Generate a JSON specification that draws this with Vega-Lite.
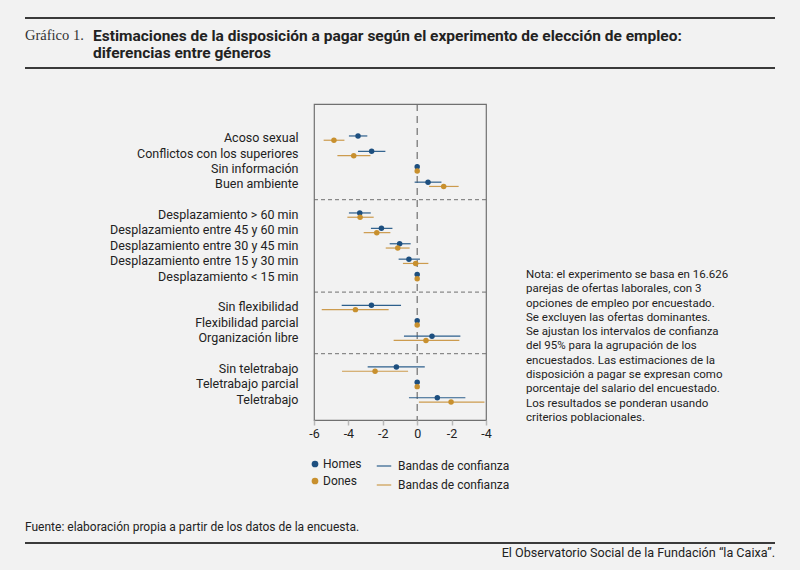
{
  "$schema": "https://vega.github.io/schema/vega-lite/v6.json",
  "background": "#f2f2f2",
  "padding": {"left": 24, "right": 26, "top": 17, "bottom": 10},
  "config": {"view": {"stroke": null}, "font": "Roboto"},
  "datasets": {
    "estimaciones": [
      {"atributo": "Acoso sexual", "genero": "Homes", "wtp": -3.44, "lo": -3.97, "hi": -2.90},
      {"atributo": "Acoso sexual", "genero": "Dones", "wtp": -4.84, "lo": -5.44, "hi": -4.23},
      {"atributo": "Conflictos con los superiores", "genero": "Homes", "wtp": -2.65, "lo": -3.44, "hi": -1.85},
      {"atributo": "Conflictos con los superiores", "genero": "Dones", "wtp": -3.69, "lo": -4.64, "hi": -2.72},
      {"atributo": "Sin información", "genero": "Homes", "wtp": 0},
      {"atributo": "Sin información", "genero": "Dones", "wtp": 0},
      {"atributo": "Buen ambiente", "genero": "Homes", "wtp": 0.63, "lo": -0.15, "hi": 1.41},
      {"atributo": "Buen ambiente", "genero": "Dones", "wtp": 1.54, "lo": 0.69, "hi": 2.41},
      {"atributo": "Desplazamiento > 60 min", "genero": "Homes", "wtp": -3.34, "lo": -3.97, "hi": -2.70},
      {"atributo": "Desplazamiento > 60 min", "genero": "Dones", "wtp": -3.32, "lo": -4.06, "hi": -2.53},
      {"atributo": "Desplazamiento entre 45 y 60 min", "genero": "Homes", "wtp": -2.08, "lo": -2.69, "hi": -1.44},
      {"atributo": "Desplazamiento entre 45 y 60 min", "genero": "Dones", "wtp": -2.35, "lo": -3.11, "hi": -1.56},
      {"atributo": "Desplazamiento entre 30 y 45 min", "genero": "Homes", "wtp": -1.02, "lo": -1.60, "hi": -0.38},
      {"atributo": "Desplazamiento entre 30 y 45 min", "genero": "Dones", "wtp": -1.13, "lo": -1.83, "hi": -0.44},
      {"atributo": "Desplazamiento entre 15 y 30 min", "genero": "Homes", "wtp": -0.48, "lo": -1.08, "hi": 0.16},
      {"atributo": "Desplazamiento entre 15 y 30 min", "genero": "Dones", "wtp": -0.09, "lo": -0.83, "hi": 0.65},
      {"atributo": "Desplazamiento < 15 min", "genero": "Homes", "wtp": 0},
      {"atributo": "Desplazamiento < 15 min", "genero": "Dones", "wtp": 0},
      {"atributo": "Sin flexibilidad", "genero": "Homes", "wtp": -2.66, "lo": -4.39, "hi": -0.94},
      {"atributo": "Sin flexibilidad", "genero": "Dones", "wtp": -3.59, "lo": -5.55, "hi": -1.66},
      {"atributo": "Flexibilidad parcial", "genero": "Homes", "wtp": 0},
      {"atributo": "Flexibilidad parcial", "genero": "Dones", "wtp": 0},
      {"atributo": "Organización libre", "genero": "Homes", "wtp": 0.86, "lo": -0.77, "hi": 2.51},
      {"atributo": "Organización libre", "genero": "Dones", "wtp": 0.51, "lo": -1.37, "hi": 2.45},
      {"atributo": "Sin teletrabajo", "genero": "Homes", "wtp": -1.21, "lo": -2.88, "hi": 0.44},
      {"atributo": "Sin teletrabajo", "genero": "Dones", "wtp": -2.45, "lo": -4.37, "hi": -0.53},
      {"atributo": "Teletrabajo parcial", "genero": "Homes", "wtp": 0},
      {"atributo": "Teletrabajo parcial", "genero": "Dones", "wtp": 0},
      {"atributo": "Teletrabajo", "genero": "Homes", "wtp": 1.17, "lo": -0.48, "hi": 2.80},
      {"atributo": "Teletrabajo", "genero": "Dones", "wtp": 1.97, "lo": 0.10, "hi": 3.91}
    ],
    "separadores": [
      {"atributo": "sep1"},
      {"atributo": "sep2"},
      {"atributo": "sep3"}
    ]
  },
  "columns": 1,
  "spacing": 29,
  "resolve": {"scale": {"fill": "independent", "stroke": "independent"}},
  "concat": [
    {
      "width": 750,
      "height": 50,
      "data": {"values": [{}]},
      "layer": [
        {
          "mark": {"type": "rule", "color": "#3a3a3a", "strokeWidth": 2},
          "encoding": {"y": {"datum": 1, "type": "quantitative", "scale": {"domain": [0, 1]}, "axis": null}}
        },
        {
          "mark": {"type": "rule", "color": "#3a3a3a", "strokeWidth": 2},
          "encoding": {"y": {"datum": 0, "type": "quantitative"}}
        },
        {
          "mark": {"type": "text", "text": "Gráfico 1.", "font": "Liberation Serif", "fontSize": 14.5, "align": "left", "baseline": "middle", "color": "#333333"},
          "encoding": {
            "x": {"datum": 0, "type": "quantitative", "scale": {"domain": [0, 1]}, "axis": null},
            "y": {"datum": 0.64, "type": "quantitative"}
          }
        },
        {
          "mark": {"type": "text", "text": ["Estimaciones de la disposición a pagar según el experimento de elección de empleo:", "diferencias entre géneros"], "font": "Roboto", "fontWeight": "bold", "fontSize": 15.5, "lineHeight": 16.5, "align": "left", "baseline": "middle", "dx": 68, "color": "#222222"},
          "encoding": {
            "x": {"datum": 0, "type": "quantitative"},
            "y": {"datum": 0.64, "type": "quantitative"}
          }
        }
      ]
    },
    {
      "columns": 1,
      "spacing": 29,
      "resolve": {"scale": {"fill": "independent", "stroke": "independent"}},
      "concat": [
        {
          "spacing": 15,
          "resolve": {"scale": {"fill": "independent", "stroke": "independent"}},
          "hconcat": [
            {
              "width": 1,
              "height": 1,
              "data": {"values": [{}]},
              "mark": {"type": "text", "text": ""},
              "encoding": {}
            },
            {
              "width": 172,
              "height": 316,
              "view": {"stroke": "#707070", "strokeWidth": 1.2},
              "layer": [
                {
                  "data": {"name": "separadores"},
                  "mark": {"type": "rule", "color": "#707070", "strokeWidth": 1, "strokeDash": [4, 3]},
                  "encoding": {
                    "y": {"field": "atributo", "type": "nominal", "title": null,
                      "scale": {"domain": ["sep0", "Acoso sexual", "Conflictos con los superiores", "Sin información", "Buen ambiente", "sep1", "Desplazamiento > 60 min", "Desplazamiento entre 45 y 60 min", "Desplazamiento entre 30 y 45 min", "Desplazamiento entre 15 y 30 min", "Desplazamiento < 15 min", "sep2", "Sin flexibilidad", "Flexibilidad parcial", "Organización libre", "sep3", "Sin teletrabajo", "Teletrabajo parcial", "Teletrabajo"], "paddingInner": 0, "paddingOuter": 0.76, "align": 0.47},
                      "axis": {"title": null, "ticks": false, "domain": false, "grid": false, "labelPadding": 16, "labelFont": "Roboto", "labelFontSize": 12.5, "labelColor": "#222222", "labelLimit": 300, "minExtent": 272, "labelExpr": "indexof(datum.label, 'sep') === 0 ? '' : datum.label"}
                    }
                  }
                },
                {
                  "data": {"values": [{}]},
                  "mark": {"type": "rule", "color": "#707070", "strokeWidth": 1.2, "strokeDash": [7, 5]},
                  "encoding": {"x": {"datum": 0, "type": "quantitative", "title": null,
                    "scale": {"domain": [-6, 4], "nice": false, "zero": false},
                    "axis": {"title": null, "values": [-6, -4, -2, 0, 2, 4], "tickCount": 10, "labelExpr": "datum.value == 0 ? '0' : '-' + abs(datum.value)", "labelFlush": false, "labelOverlap": false, "domain": false, "grid": false, "tickColor": "#b8b8b8", "tickSize": 5, "tickWidth": 1.5, "labelPadding": 2, "labelFont": "Roboto", "labelFontSize": 12.5, "labelColor": "#222222"}}}
                },
                {
                  "data": {"name": "estimaciones"},
                  "mark": {"type": "rule", "strokeWidth": 1.2},
                  "encoding": {
                    "x": {"field": "lo", "type": "quantitative", "title": null},
                    "x2": {"field": "hi"},
                    "y": {"field": "atributo", "type": "nominal", "title": null},
                    "yOffset": {"field": "genero", "type": "nominal", "scale": {"domain": ["Homes", "Dones"], "paddingOuter": 0.8}},
                    "stroke": {"field": "genero", "type": "nominal", "sort": ["Homes", "Dones"],
                      "scale": {"range": ["#2d5f8c", "#cc9b4e"]},
                      "legend": {"title": null, "orient": "none", "legendX": 62, "legendY": 354, "direction": "vertical", "symbolType": "stroke", "symbolSize": 210, "symbolStrokeWidth": 1.2, "labelExpr": "'Bandas de confianza'", "labelOffset": 6, "labelFont": "Roboto", "labelFontSize": 12, "labelColor": "#222222", "rowPadding": 5}
                    }
                  }
                },
                {
                  "data": {"name": "estimaciones"},
                  "mark": {"type": "circle", "size": 30, "opacity": 1},
                  "encoding": {
                    "x": {"field": "wtp", "type": "quantitative", "title": null},
                    "y": {"field": "atributo", "type": "nominal", "title": null},
                    "yOffset": {"field": "genero", "type": "nominal", "scale": {"domain": ["Homes", "Dones"], "paddingOuter": 0.8}},
                    "fill": {"field": "genero", "type": "nominal",
                      "scale": {"domain": ["Homes", "Dones"], "range": ["#1d4f7f", "#c8902e"]},
                      "legend": {"title": null, "orient": "none", "legendX": -5, "legendY": 354, "direction": "vertical", "symbolType": "circle", "symbolSize": 45, "labelOffset": 2, "labelFont": "Roboto", "labelFontSize": 12, "labelColor": "#222222", "rowPadding": 5}
                    }
                  }
                }
              ]
            },
            {
              "width": 250,
              "height": 316,
              "data": {"values": [{}]},
              "mark": {"type": "text", "font": "Roboto", "fontSize": 11.5, "lineHeight": 14.3, "align": "left", "baseline": "middle", "color": "#222222",
                "text": [
                  "Nota: el experimento se basa en 16.626",
                  "parejas de ofertas laborales, con 3",
                  "opciones de empleo por encuestado.",
                  "Se excluyen las ofertas dominantes.",
                  "Se ajustan los intervalos de confianza",
                  "del 95% para la agrupación de los",
                  "encuestados. Las estimaciones de la",
                  "disposición a pagar se expresan como",
                  "porcentaje del salario del encuestado.",
                  "Los resultados se ponderan usando",
                  "criterios poblacionales."
                ]},
              "encoding": {
                "x": {"datum": 0, "type": "quantitative", "scale": {"domain": [0, 1]}, "axis": null},
                "y": {"datum": 0.459, "type": "quantitative", "scale": {"domain": [0, 1]}, "axis": null}
              }
            }
          ]
        },
        {
          "width": 750,
          "height": 26,
          "data": {"values": [{}]},
          "layer": [
            {
              "mark": {"type": "text", "text": "Fuente: elaboración propia a partir de los datos de la encuesta.", "font": "Roboto", "fontSize": 12, "align": "left", "baseline": "middle", "color": "#222222"},
              "encoding": {
                "x": {"datum": 0, "type": "quantitative", "scale": {"domain": [0, 1]}, "axis": null},
                "y": {"datum": 1, "type": "quantitative", "scale": {"domain": [0, 1]}, "axis": null}
              }
            },
            {
              "mark": {"type": "rule", "color": "#3a3a3a", "strokeWidth": 2},
              "encoding": {"y": {"datum": 0.385, "type": "quantitative"}}
            },
            {
              "mark": {"type": "text", "text": "El Observatorio Social de la Fundación “la Caixa”.", "font": "Roboto", "fontSize": 12.6, "align": "right", "baseline": "middle", "color": "#222222"},
              "encoding": {
                "x": {"datum": 1, "type": "quantitative"},
                "y": {"datum": 0, "type": "quantitative"}
              }
            }
          ]
        }
      ]
    }
  ]
}
